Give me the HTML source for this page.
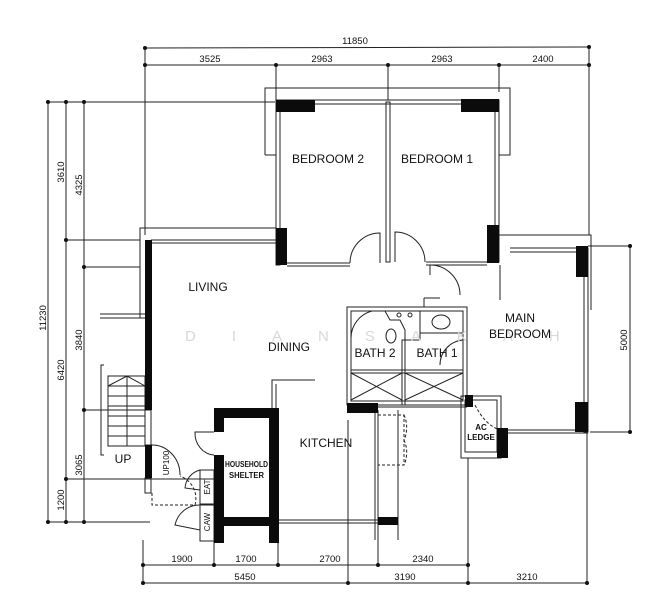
<!DOCTYPE html>
<html><head><meta charset="utf-8"><style>
html,body{margin:0;padding:0;background:#fff;}
svg{display:block;}
text{font-family:"Liberation Sans",sans-serif;fill:#111;}
</style></head><body>
<svg width="672" height="600" viewBox="0 0 672 600" xmlns="http://www.w3.org/2000/svg">
<g stroke="#222" stroke-width="1" fill="none">
<line x1="145" y1="48" x2="589" y2="47"/>
<line x1="145" y1="65" x2="589" y2="65"/>
<line x1="145" y1="48" x2="145" y2="235"/>
<line x1="589" y1="47" x2="589" y2="235"/>
<line x1="276" y1="65" x2="276" y2="100"/>
<line x1="388" y1="65" x2="388" y2="100"/>
<line x1="499" y1="65" x2="499" y2="92"/>
<line x1="48" y1="102" x2="48" y2="523"/>
<line x1="66" y1="102" x2="66" y2="523"/>
<line x1="84" y1="102" x2="84" y2="523"/>
<line x1="46" y1="102" x2="275" y2="102"/>
<line x1="64" y1="240" x2="140" y2="240"/>
<line x1="82" y1="267" x2="140" y2="267"/>
<line x1="82" y1="410" x2="150" y2="410"/>
<line x1="64" y1="479" x2="150" y2="479"/>
<line x1="46" y1="522" x2="150" y2="522"/>
<line x1="630" y1="246" x2="630" y2="432"/>
<line x1="588" y1="246" x2="632" y2="246"/>
<line x1="590" y1="432" x2="632" y2="432"/>
<line x1="143" y1="565" x2="470" y2="565"/>
<line x1="143" y1="583" x2="589" y2="583"/>
<line x1="143" y1="540" x2="143" y2="585"/>
<line x1="214" y1="540" x2="214" y2="567"/>
<line x1="278" y1="540" x2="278" y2="567"/>
<line x1="348" y1="420" x2="348" y2="585"/>
<line x1="378" y1="540" x2="378" y2="567"/>
<line x1="468" y1="458" x2="468" y2="585"/>
<line x1="587" y1="432" x2="587" y2="585"/>
<polyline points="265,155 265,88 510,88 510,155 499,155"/>
<line x1="265" y1="155" x2="276" y2="155"/>
<rect x="276" y="100" width="223" height="4"/>
<rect x="276" y="100" width="4" height="165"/>
<rect x="495" y="100" width="4" height="162"/>
<rect x="386" y="102" width="4" height="160"/>
<line x1="287" y1="263" x2="350" y2="263"/>
<line x1="287" y1="266" x2="350" y2="266"/>
<line x1="426" y1="262" x2="487" y2="262"/>
<line x1="426" y1="265" x2="487" y2="265"/>
<path d="M350,263 A30,30 0 0 1 380,233 L380,263"/>
<path d="M425,262 A30,30 0 0 0 395,232 L395,262"/>
<path d="M430,265 A30,30 0 0 1 460,295"/>
<line x1="430" y1="265" x2="430" y2="275"/>
<polyline points="140,318 140,228 276,228"/>
<line x1="151" y1="240" x2="276" y2="240"/>
<line x1="151" y1="243" x2="276" y2="243"/>
<line x1="100" y1="314" x2="145" y2="314"/>
<line x1="100" y1="318" x2="145" y2="318"/>
<rect x="145" y="410" width="6" height="35"/>
<rect x="145" y="478" width="6" height="15"/>
<polyline points="104,365 101,365 101,455 104,455"/>
<rect x="108" y="376" width="37" height="70"/>
<line x1="108" y1="386" x2="127" y2="376"/>
<line x1="127" y1="376" x2="145" y2="386"/>
<line x1="108" y1="386" x2="145" y2="386"/>
<line x1="108" y1="396" x2="145" y2="396"/>
<line x1="108" y1="406" x2="145" y2="406"/>
<line x1="108" y1="416" x2="145" y2="416"/>
<line x1="108" y1="426" x2="145" y2="426"/>
<line x1="108" y1="436" x2="145" y2="436"/>
<line x1="127" y1="376" x2="127" y2="446"/>
<polyline points="499,235 591,235 591,310"/>
<line x1="510" y1="248" x2="588" y2="248"/>
<line x1="510" y1="252" x2="588" y2="252"/>
<rect x="584" y="248" width="4" height="184"/>
<line x1="508" y1="430" x2="588" y2="430"/>
<line x1="508" y1="433" x2="588" y2="433"/>
<line x1="500" y1="265" x2="500" y2="300"/>
<rect x="461" y="396" width="40" height="62"/>
<rect x="465" y="400" width="32" height="52"/>
<path d="M475,405 Q485,425 500,430" stroke-dasharray="3,2"/>
<rect x="347" y="307" width="120" height="98"/>
<rect x="351" y="311" width="112" height="90"/>
<rect x="402" y="340" width="3" height="65"/>
<line x1="351" y1="370" x2="463" y2="370"/>
<line x1="351" y1="373" x2="463" y2="373"/>
<line x1="351" y1="373" x2="402" y2="400"/>
<line x1="402" y1="373" x2="351" y2="400"/>
<line x1="405" y1="373" x2="463" y2="400"/>
<line x1="463" y1="373" x2="405" y2="400"/>
<path d="M385,311 L390,320 L400,320 L405,330 L405,340 L420,340 L420,311"/>
<path d="M420,311 L420,333 L463,333"/>
<path d="M372,311 A28,28 0 0 0 351,338"/>
<path d="M463,340 A25,25 0 0 0 440,365"/>
<ellipse cx="441" cy="322" rx="9" ry="7"/>
<ellipse cx="391" cy="336" rx="5" ry="7"/>
<circle cx="399" cy="315" r="2"/><circle cx="410" cy="315" r="2"/>
<path d="M424,298 L424,307 M424,298 L440,298"/>
<line x1="378" y1="407" x2="467" y2="407"/>
<polyline points="272,525 272,380 315,380"/>
<line x1="276" y1="384" x2="276" y2="408"/>
<line x1="375" y1="405" x2="375" y2="540"/>
<line x1="378" y1="410" x2="378" y2="540"/>
<line x1="398" y1="410" x2="398" y2="540"/>
<rect x="378" y="415" width="26" height="50" stroke-dasharray="3,2"/>
<path d="M404,415 A20,25 0 0 1 404,440 M404,440 A20,25 0 0 1 404,465" stroke-dasharray="3,2"/>
<line x1="224" y1="520" x2="398" y2="520"/>
<line x1="224" y1="523" x2="398" y2="523"/>
<path d="M214,432 L195,432 A20,22 0 0 0 214,455"/>
<path d="M151,445 A28,30 0 0 1 180,475" />
<path d="M152,493 L152,505 L195,505 A24,24 0 0 0 180,476" stroke-dasharray="3,2"/>
<line x1="150" y1="479" x2="214" y2="479"/>
<rect x="200" y="470" width="14" height="34"/>
<rect x="200" y="505" width="14" height="36"/>
<path d="M200,505 A25,25 0 0 0 175,525 L200,530"/>
<path d="M200,470 A20,20 0 0 0 185,488 L200,490"/>
</g>
<g fill="#0b0b0b">
<rect x="276" y="100" width="39" height="12"/>
<rect x="461" y="99" width="38" height="13"/>
<rect x="276" y="228" width="11" height="37"/>
<rect x="487" y="225" width="12" height="38"/>
<rect x="145" y="240" width="7" height="170"/>
<rect x="145" y="445" width="7" height="33"/>
<rect x="576" y="246" width="12" height="31"/>
<rect x="575" y="402" width="13" height="30"/>
<rect x="497" y="428" width="11" height="30"/>
<rect x="347" y="403" width="31" height="10"/>
<rect x="465" y="395" width="8" height="12"/>
<rect x="214" y="408" width="65" height="10"/>
<rect x="214" y="408" width="10" height="24"/>
<rect x="214" y="455" width="10" height="88"/>
<rect x="269" y="408" width="10" height="135"/>
<rect x="224" y="517" width="45" height="9"/>
<rect x="378" y="517" width="20" height="8"/>
</g>
<g fill="#111">
<circle cx="145" cy="48" r="2"/><circle cx="589" cy="47" r="2"/>
<circle cx="145" cy="65" r="2"/><circle cx="276" cy="65" r="2"/><circle cx="388" cy="65" r="2"/><circle cx="499" cy="65" r="2"/><circle cx="589" cy="65" r="2"/>
<circle cx="48" cy="102" r="2"/><circle cx="66" cy="102" r="2"/><circle cx="84" cy="102" r="2"/>
<circle cx="66" cy="240" r="2"/><circle cx="84" cy="267" r="2"/><circle cx="84" cy="410" r="2"/><circle cx="66" cy="479" r="2"/>
<circle cx="48" cy="522" r="2"/><circle cx="66" cy="522" r="2"/><circle cx="84" cy="522" r="2"/>
<circle cx="630" cy="246" r="2"/><circle cx="630" cy="432" r="2"/>
<circle cx="143" cy="565" r="2"/><circle cx="214" cy="565" r="2"/><circle cx="278" cy="565" r="2"/><circle cx="378" cy="565" r="2"/><circle cx="468" cy="565" r="2"/>
<circle cx="143" cy="583" r="2"/><circle cx="348" cy="583" r="2"/><circle cx="468" cy="583" r="2"/><circle cx="587" cy="583" r="2"/>
</g>
<text x="185" y="341" font-size="15" style="fill:#d8d8d8;letter-spacing:36px">DIANSAKAH</text>
<g font-size="9.5">
<text x="355" y="44" text-anchor="middle">11850</text>
<text x="210" y="62" text-anchor="middle">3525</text>
<text x="322" y="62" text-anchor="middle">2963</text>
<text x="442" y="62" text-anchor="middle">2963</text>
<text x="543" y="62" text-anchor="middle">2400</text>
<text x="182" y="562" text-anchor="middle">1900</text>
<text x="246" y="562" text-anchor="middle">1700</text>
<text x="330" y="562" text-anchor="middle">2700</text>
<text x="423" y="562" text-anchor="middle">2340</text>
<text x="245" y="580" text-anchor="middle">5450</text>
<text x="405" y="580" text-anchor="middle">3190</text>
<text x="527" y="580" text-anchor="middle">3210</text>
<text transform="translate(64,172) rotate(-90)" text-anchor="middle">3610</text>
<text transform="translate(82,185) rotate(-90)" text-anchor="middle">4325</text>
<text transform="translate(46,318) rotate(-90)" text-anchor="middle">11230</text>
<text transform="translate(82,340) rotate(-90)" text-anchor="middle">3840</text>
<text transform="translate(64,370) rotate(-90)" text-anchor="middle">6420</text>
<text transform="translate(82,465) rotate(-90)" text-anchor="middle">3065</text>
<text transform="translate(64,500) rotate(-90)" text-anchor="middle">1200</text>
<text transform="translate(627,340) rotate(-90)" text-anchor="middle">5000</text>
</g>
<g font-size="12">
<text x="328" y="163" text-anchor="middle">BEDROOM 2</text>
<text x="437" y="163" text-anchor="middle">BEDROOM 1</text>
<text x="208" y="291" text-anchor="middle">LIVING</text>
<text x="289" y="351" text-anchor="middle">DINING</text>
<text x="520" y="322" text-anchor="middle">MAIN</text>
<text x="520" y="338" text-anchor="middle">BEDROOM</text>
<text x="375" y="357" text-anchor="middle">BATH 2</text>
<text x="437" y="357" text-anchor="middle">BATH 1</text>
<text x="326" y="447" text-anchor="middle">KITCHEN</text>
<text x="123" y="463" text-anchor="middle">UP</text>
</g>
<g font-size="8" font-weight="bold">
<text x="225" y="467" textLength="43" lengthAdjust="spacingAndGlyphs">HOUSEHOLD</text>
<text x="229" y="478" textLength="35" lengthAdjust="spacingAndGlyphs">SHELTER</text>
<text x="481" y="430" text-anchor="middle">AC</text>
<text x="481" y="440" text-anchor="middle">LEDGE</text>
</g>
<g font-size="8">
<text transform="translate(169,463) rotate(-90)" text-anchor="middle">UP100</text>
<text transform="translate(210,487) rotate(-90)" text-anchor="middle">EAT</text>
<text transform="translate(210,522) rotate(-90)" text-anchor="middle">CAW</text>
</g>
</svg>
</body></html>
